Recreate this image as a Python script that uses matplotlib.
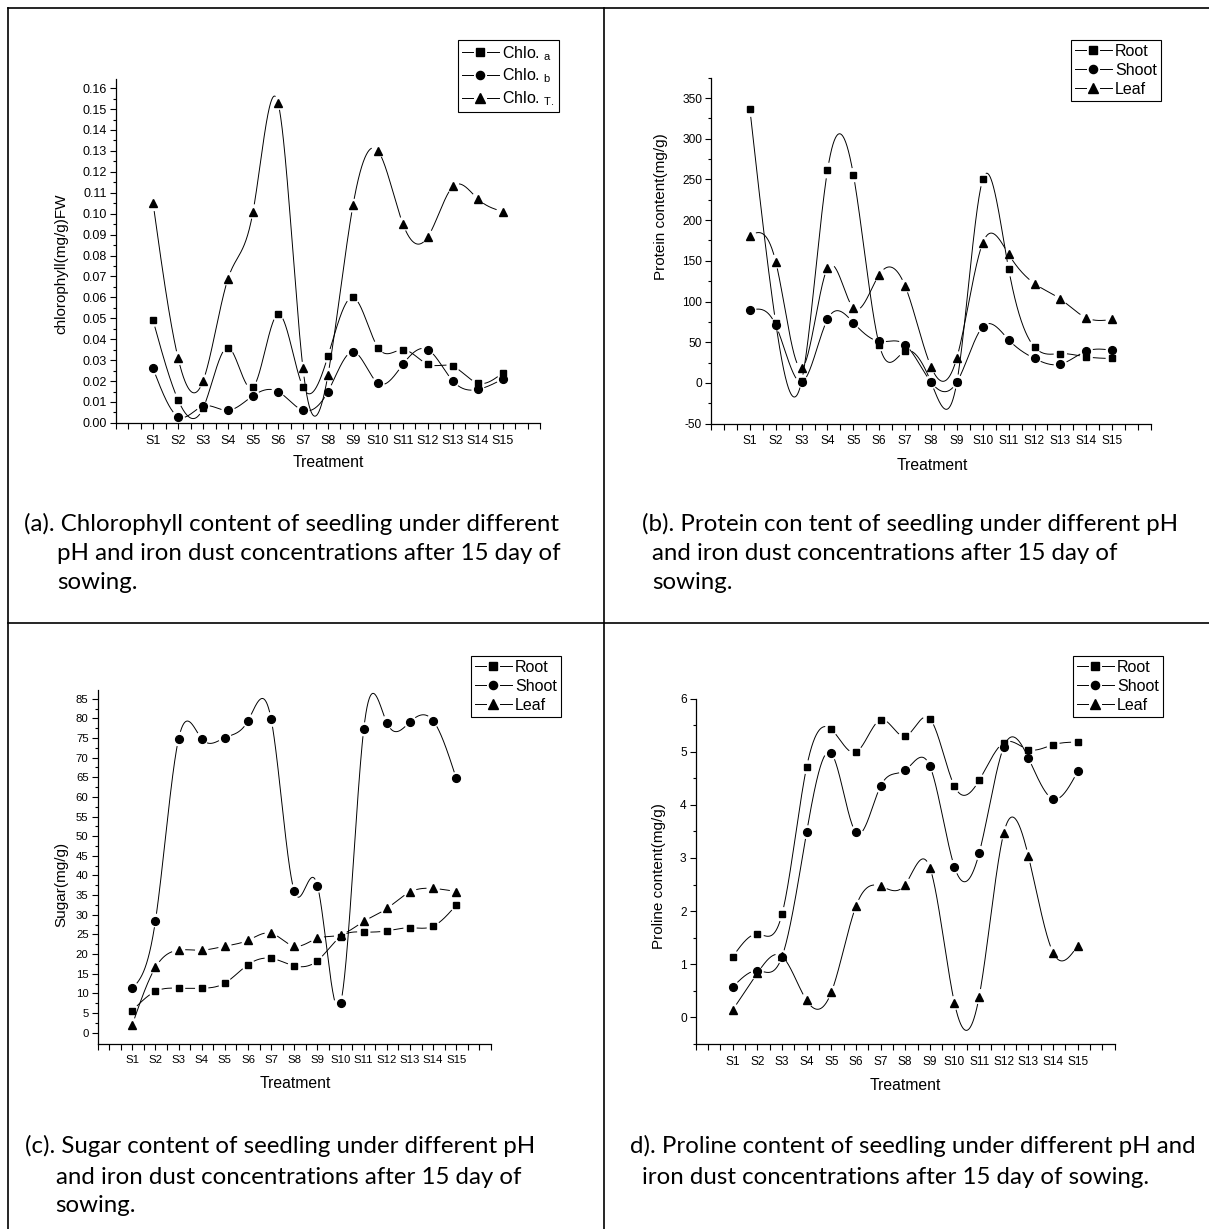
import numpy as np
import matplotlib
matplotlib.use("Agg")
import matplotlib.pyplot as plt
from matplotlib.lines import Line2D
from matplotlib.legend_handler import HandlerBase

plt.rcParams['font.family'] = ['Liberation Sans', 'DejaVu Sans']
plt.rcParams['mathtext.default'] = 'regular'

W, H = 1209, 1229

treatments = ["S%d" % i for i in range(1, 16)]

# (a) chlorophyll
chlo_a = [0.049, 0.011, 0.007, 0.036, 0.017, 0.052, 0.017, 0.032, 0.060, 0.036, 0.035, 0.028, 0.027, 0.019, 0.024]
chlo_b = [0.026, 0.003, 0.008, 0.006, 0.013, 0.015, 0.006, 0.015, 0.034, 0.019, 0.028, 0.035, 0.020, 0.016, 0.021]
chlo_t = [0.105, 0.031, 0.020, 0.069, 0.101, 0.153, 0.026, 0.023, 0.104, 0.130, 0.095, 0.089, 0.113, 0.107, 0.101]

# (b) protein
protein_root = [337, 74, 2, 261, 256, 47, 39, 1, 1, 250, 140, 44, 36, 32, 30]
protein_shoot = [89, 71, 1, 78, 74, 51, 47, 1, 1, 69, 53, 30, 23, 39, 40]
protein_leaf = [181, 149, 18, 141, 92, 133, 119, 20, 31, 172, 158, 122, 103, 80, 78]

# (c) sugar
sugar_root = [5.6, 10.5, 11.3, 11.3, 12.6, 17.3, 18.9, 17.0, 18.3, 24.4, 25.6, 25.9, 26.7, 27.1, 32.5]
sugar_shoot = [11.3, 28.5, 74.8, 74.8, 75.1, 79.4, 79.8, 36.0, 37.4, 7.5, 77.2, 78.9, 79.1, 79.4, 64.7]
sugar_leaf = [2.0, 16.6, 21.0, 21.0, 22.0, 23.5, 25.3, 22.0, 24.0, 24.9, 28.3, 31.6, 35.8, 36.7, 35.9]

# (d) proline
proline_root = [1.14, 1.57, 1.94, 4.71, 5.42, 4.99, 5.60, 5.29, 5.62, 4.35, 4.46, 5.17, 5.04, 5.13, 5.18]
proline_shoot = [0.57, 0.88, 1.14, 3.48, 4.97, 3.48, 4.35, 4.65, 4.73, 2.83, 3.09, 5.09, 4.88, 4.11, 4.63]
proline_leaf = [0.14, 0.83, 1.15, 0.32, 0.47, 2.09, 2.47, 2.50, 2.82, 0.27, 0.39, 3.47, 3.03, 1.22, 1.35]

captions = {
    'a': ["(a). Chlorophyll content of seedling under different",
          "pH and iron dust concentrations after 15 day of",
          "sowing."],
    'b': ["(b). Protein con tent of seedling under different pH",
          "and iron dust concentrations after 15 day of",
          "sowing."],
    'c': ["(c). Sugar content of seedling under different pH",
          "and iron dust concentrations after 15 day of",
          "sowing."],
    'd': ["d). Proline content of seedling under different pH and",
          "iron dust concentrations after 15 day of sowing."],
}


def natural_spline(x, y, xs):
    x = np.asarray(x, float); y = np.asarray(y, float)
    n = len(x)
    h = np.diff(x)
    A = np.zeros((n, n)); r = np.zeros(n)
    A[0, 0] = 1; A[-1, -1] = 1
    for i in range(1, n - 1):
        A[i, i - 1] = h[i - 1]; A[i, i] = 2 * (h[i - 1] + h[i]); A[i, i + 1] = h[i]
        r[i] = 6 * ((y[i + 1] - y[i]) / h[i] - (y[i] - y[i - 1]) / h[i - 1])
    M = np.linalg.solve(A, r)
    idx = np.clip(np.searchsorted(x, xs) - 1, 0, n - 2)
    x0 = x[idx]; x1 = x[idx + 1]; hh = x1 - x0
    t0 = x1 - xs; t1 = xs - x0
    return (M[idx] * t0 ** 3 / (6 * hh) + M[idx + 1] * t1 ** 3 / (6 * hh)
            + (y[idx] / hh - M[idx] * hh / 6) * t0 + (y[idx + 1] / hh - M[idx + 1] * hh / 6) * t1)


class GapHandler(HandlerBase):
    def create_artists(self, legend, orig, xdescent, ydescent, width, height, fontsize, trans):
        y = height / 2 - ydescent
        g = 0.45 * fontsize
        x0 = -xdescent; x1 = width - xdescent; xm = (x0 + x1) / 2
        l1 = Line2D([x0, xm - g], [y, y], color='black', lw=0.7)
        l2 = Line2D([xm + g, x1], [y, y], color='black', lw=0.7)
        m = Line2D([xm], [y], marker=orig.get_marker(), markersize=orig.get_markersize(),
                   color='black', ls='none')
        for a in (l1, l2, m):
            a.set_transform(trans)
        return [l1, l2, m]


fig = plt.figure(figsize=(W / 100, H / 100), dpi=100)


def add_ax(x0, x1, yt, yb):
    return fig.add_axes([x0 / W, 1 - yb / H, (x1 - x0) / W, (yb - yt) / H])


markers = ['s', 'o', '^']
msizes = [5.0, 5.6, 6.4]


def draw_panel(ax, series, labels, ylim, yticks, yminor, yfmt, tick_fs, legend_corner, leg_fs):
    ax.set_xlim(-0.5, 16.5)
    ax.set_ylim(*ylim)
    for s in ['top', 'right']:
        ax.spines[s].set_visible(False)
    for s in ['left', 'bottom']:
        ax.spines[s].set_linewidth(0.9)
    ax.set_xticks(np.arange(-0.5, 16.51, 0.5))
    ax.set_xticklabels([treatments[int(v) - 1] if (v == int(v) and 1 <= v <= 15) else '' for v in np.arange(-0.5, 16.51, 0.5)])
    ax.set_yticks(yticks)
    ax.set_yticklabels([yfmt(v) for v in yticks])
    ax.set_yticks(yminor, minor=True)
    ax.tick_params(axis='both', which='major', direction='out', length=4.5, width=0.8, labelsize=tick_fs, pad=2)
    ax.tick_params(axis='y', which='minor', direction='out', length=2.5, width=0.8)
    ax.tick_params(axis='x', pad=4)
    xs_pts = np.arange(1, 16)
    xd = np.linspace(1, 15, 1500)
    handles = []
    for k, (vals, lab) in enumerate(zip(series, labels)):
        yd = natural_spline(xs_pts, vals, xd)
        disp = ax.transData.transform(np.column_stack([xd, yd]))
        mk = ax.transData.transform(np.column_stack([xs_pts, np.asarray(vals, float)]))
        dist = np.min(np.hypot(disp[:, None, 0] - mk[None, :, 0], disp[:, None, 1] - mk[None, :, 1]), axis=1)
        yplot = yd.copy()
        yplot[dist < 7.0] = np.nan
        ax.plot(xd, yplot, color='black', lw=0.7, clip_on=False)
        ax.plot(xs_pts, vals, ls='none', marker=markers[k], ms=msizes[k], color='black', clip_on=False)
        handles.append(Line2D([], [], marker=markers[k], ms=msizes[k] * 1.05, color='black'))
    leg = ax.legend(handles, labels, loc='upper right',
                    bbox_to_anchor=(legend_corner[0] / W, 1 - legend_corner[1] / H),
                    bbox_transform=fig.transFigure, borderaxespad=0, fontsize=leg_fs,
                    frameon=True, fancybox=False, framealpha=1, edgecolor='black',
                    handlelength=2.3, handletextpad=0.22, labelspacing=0.25, borderpad=0.25,
                    handler_map={Line2D: GapHandler()})
    leg.get_frame().set_linewidth(0.8)
    return ax


def fmt2(v):
    return "%.2f" % v


def fmti(v):
    return "%d" % round(v)


# Panel a
axa = add_ax(115.6, 540.4, 78.5, 422.9)
draw_panel(axa, [chlo_a, chlo_b, chlo_t],
           ['Chlo. $_{a}$', 'Chlo. $_{b}$', 'Chlo. $_{T.}$'],
           (0, 0.1646), np.arange(0, 0.1601, 0.01), np.arange(0.005, 0.165, 0.01), fmt2, 9.0,
           (559, 40), 11.5)
# Panel b
axb = add_ax(711, 1151, 77.7, 423.6)
draw_panel(axb, [protein_root, protein_shoot, protein_leaf], ['Root', 'Shoot', 'Leaf'],
           (-50, 375), np.arange(-50, 351, 50), np.arange(-25, 376, 50), fmti, 8.6,
           (1161, 40), 11.5)
# Panel c
axc = add_ax(97.6, 491, 689.7, 1043.6)
draw_panel(axc, [sugar_root, sugar_shoot, sugar_leaf], ['Root', 'Shoot', 'Leaf'],
           (-2.8, 87.3), np.arange(0, 86, 5), np.arange(2.5, 87.3, 5), fmti, 8.2,
           (561, 656), 11.5)
# Panel d
axd = add_ax(695.7, 1114.7, 698.5, 1044)
draw_panel(axd, [proline_root, proline_shoot, proline_leaf], ['Root', 'Shoot', 'Leaf'],
           (-0.5, 6.0), np.arange(0, 6.01, 1), np.arange(-0.5, 6.01, 0.5), fmti, 8.6,
           (1163, 655.6), 11.5)


def ftext(x, y, s, **kw):
    fig.text(x / W, 1 - y / H, s, **kw)


# axis labels
ftext(61, 264, "chlorophyll(mg/g)FW", rotation=90, ha='center', va='center', fontsize=11)
ftext(661, 207, "Protein content(mg/g)", rotation=90, ha='center', va='center', fontsize=11)
ftext(61, 884, "Sugar(mg/g)", rotation=90, ha='center', va='center', fontsize=11)
ftext(659, 876, "Proline content(mg/g)", rotation=90, ha='center', va='center', fontsize=11)
ftext(328, 463, "Treatment", ha='center', va='center', fontsize=11.3)
ftext(932, 465, "Treatment", ha='center', va='center', fontsize=11.3)
ftext(295, 1084, "Treatment", ha='center', va='center', fontsize=11.3)
ftext(905, 1085, "Treatment", ha='center', va='center', fontsize=11.3)

# captions
cap_fs = 17.3
cap_font = ['Lato', 'DejaVu Sans']
cap_pos = {
    'a': [(23.7, 523.5), (57, 553), (57, 582)],
    'b': [(642, 524), (652, 553), (652, 582)],
    'c': [(25, 1146), (55.5, 1177), (55.5, 1205.5)],
    'd': [(630, 1146), (642, 1177)],
}
for key, lines in captions.items():
    for (x, y), s in zip(cap_pos[key], lines):
        ftext(x, y, s, ha='left', va='center', fontsize=cap_fs, family=cap_font)

# table grid borders
def fline(xs, ys):
    fig.add_artist(Line2D([x / W for x in xs], [1 - y / H for y in ys], color='black', lw=1.2,
                          transform=fig.transFigure))

fline([8, 1209], [7.5, 7.5])
fline([8, 8], [7.5, 1229])
fline([604, 604], [7.5, 1229])
fline([8, 1209], [623, 623])

fig.savefig("out.png", dpi=100)
